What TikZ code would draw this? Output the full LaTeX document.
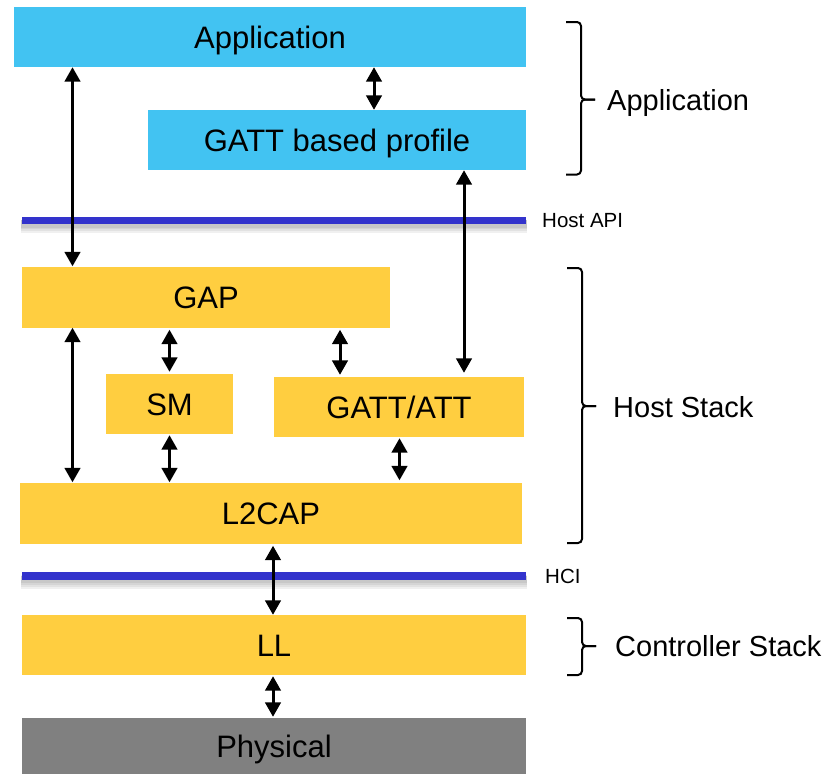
\documentclass[tikz,border=0pt]{standalone}
\usepackage{fontspec}
\setmainfont{Liberation Sans}
\usetikzlibrary{arrows.meta}

\definecolor{appblue}{RGB}{66,195,242}
\definecolor{stackyellow}{RGB}{255,206,64}
\definecolor{ifblue}{RGB}{51,51,204}
\definecolor{phygray}{RGB}{128,128,128}

% right-hand bracket: #1 stem x, #2 top y, #3 tip y, #4 bottom y
\newcommand\groupbracket[4]{%
  \draw[bracket] (#1-15,#2) -- (#1,#2) -- (#1,#3) -- (#1+14,#3);
  \draw[bracket] (#1+14,#3) -- (#1,#3) -- (#1,#4) -- (#1-15,#4);
}

\begin{document}
\begin{tikzpicture}[x=1pt,y=-1pt,
  layer/.style={rectangle, inner sep=0pt, text height=22.3pt, text depth=0pt,
    font=\fontsize{31}{31}\selectfont},
  appbox/.style={layer, fill=appblue},
  hostbox/.style={layer, fill=stackyellow},
  phybox/.style={layer, fill=phygray},
  link/.style={line width=3pt,
    {Triangle[width=15.5pt,length=14.5pt]}-{Triangle[width=15.5pt,length=14.5pt]}},
  ifline/.style={line width=7.5pt, ifblue},
  ifshadow/.style={line width=#1, black, opacity=0.06},
  iflabel/.style={anchor=west, inner sep=0pt, text height=14.7pt, text depth=0pt,
    font=\fontsize{20.5}{20.5}\selectfont},
  grouplabel/.style={anchor=west, inner sep=0pt, text height=20.8pt, text depth=0pt,
    font=\fontsize{29}{29}\selectfont},
  bracket/.style={line width=2pt, rounded corners=4pt}
]
\useasboundingbox (0,0) rectangle (834,774);

% layers
\node[appbox, minimum width=512pt, minimum height=60pt] (app) at (270,37) {Application};
\node[appbox, minimum width=378pt, minimum height=60pt] (profile) at (337,140) {GATT based profile};
\node[hostbox, minimum width=368pt, minimum height=61pt] (gap) at (206,297) {GAP};
\node[hostbox, minimum width=127pt, minimum height=60pt] (sm) at (169.5,404) {SM};
\node[hostbox, minimum width=250pt, minimum height=60pt] (gatt) at (399,407) {GATT/ATT};
\node[hostbox, minimum width=502pt, minimum height=61pt] (l2cap) at (271,513) {L2CAP};
\node[hostbox, minimum width=504pt, minimum height=60pt] (ll) at (274,645) {LL};
\node[phybox, minimum width=504pt, minimum height=56pt] (phy) at (274,746) {Physical};

% interface lines with a soft drop shadow
\coordinate (api-w) at (22,220.5);
\coordinate (api-e) at (525.7,220.5);
\coordinate (hci-w) at (22,576);
\coordinate (hci-e) at (525.7,576);
\foreach \a/\b in {api-w/api-e, hci-w/hci-e}{
  \foreach \d/\w in {6/13pt, 5/11pt, 4/9pt, 3/8pt}{
    \draw[ifshadow=\w] ([xshift=-1pt,yshift=-\d pt]\a) -- ([xshift=1pt,yshift=-\d pt]\b);
  }
  \draw[ifline] (\a) -- (\b);
}
\node[iflabel] (apilabel) at (542,220.5) {Host API};
\node[iflabel] (hcilabel) at (545,576.5) {HCI};

% arrow columns
\coordinate (c1) at (72.5,0);
\coordinate (c2) at (374,0);
\coordinate (c3) at (464,0);
\coordinate (c4) at (169.5,0);
\coordinate (c5) at (340,0);
\coordinate (c6) at (399.5,0);
\coordinate (c7) at (273,0);

\draw[link] (app.south -| c1) -- (gap.north -| c1);
\draw[link] (app.south -| c2) -- (profile.north -| c2);
\draw[link, shorten >=4pt] (profile.south -| c3) -- (gatt.north -| c3);
\draw[link] (gap.south -| c1) -- (l2cap.north -| c1);
\draw[link, shorten <=2pt, shorten >=2pt] (gap.south -| c4) -- (sm.north -| c4);
\draw[link, shorten <=2pt, shorten >=2pt] (gap.south -| c5) -- (gatt.north -| c5);
\draw[link, shorten <=1pt] (sm.south -| c4) -- (l2cap.north -| c4);
\draw[link, shorten <=1pt, shorten >=2pt] (gatt.south -| c6) -- (l2cap.north -| c6);
\draw[link, shorten <=2pt] (l2cap.south -| c7) -- (ll.north -| c7);
\draw[link, shorten <=1pt, shorten >=1pt] (ll.south -| c7) -- (phy.north -| c7);

% group brackets
\groupbracket{581}{22}{99.5}{174.5}
\groupbracket{582}{268}{406}{543}
\groupbracket{582}{618}{646}{675}
\node[grouplabel] (applabel) at (607,100.3) {Application};
\node[grouplabel] (hostlabel) at (613,407) {Host Stack};
\node[grouplabel] (ctrllabel) at (615,646) {Controller Stack};
\end{tikzpicture}
\end{document}
